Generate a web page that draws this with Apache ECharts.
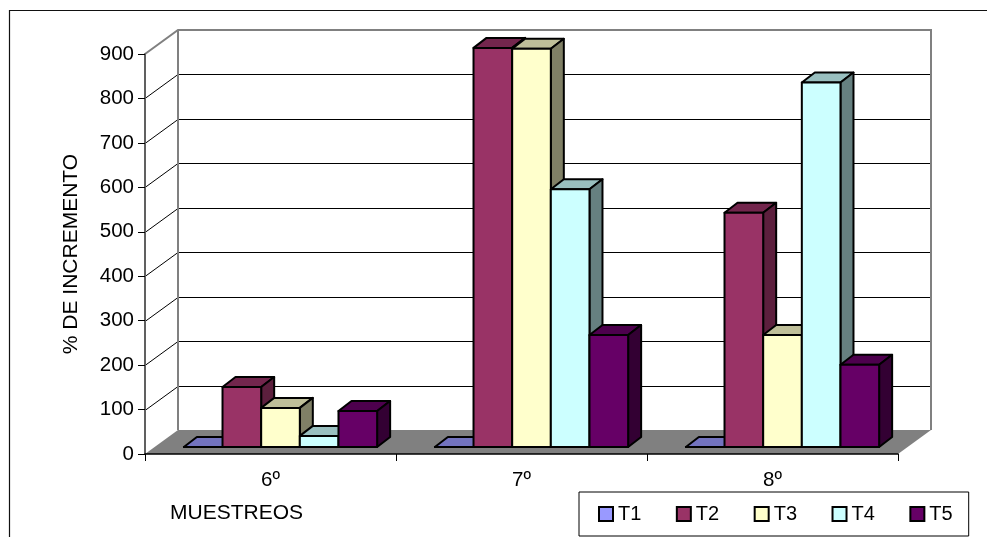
<!DOCTYPE html>
<html>
<head>
<meta charset="utf-8">
<style>html,body{margin:0;padding:0;background:#fff}#c{width:987px;height:537px}</style>
<script src="https://cdn.jsdelivr.net/npm/echarts@6/dist/echarts.min.js"></script>
</head>
<body>
<div id="c"></div>
<script>
const categories = ['6º', '7º', '8º'];
const seriesNames = ['T1', 'T2', 'T3', 'T4', 'T5'];
const T1 = [0, 0, 0];
const T2 = [135, 898, 527];
const T3 = [88, 896, 252];
const T4 = [25, 580, 820];
const T5 = [81, 252, 185];
const yTicks = [0, 100, 200, 300, 400, 500, 600, 700, 800, 900];

const seriesValues = [T1, T2, T3, T4, T5];
const faceFront = ['#9999FF', '#993366', '#FFFFCC', '#CCFFFF', '#660066'];
const faceTop = ['#7373BF', '#73264D', '#BFBF99', '#99BFBF', '#4D004D'];
const faceSide = ['#5C5C99', '#5C1F3D', '#808066', '#668080', '#330033'];

// Oblique projection: the floor runs 33px right and 24px up from front to back.
const DEPTH_X = 33, DEPTH_Y = -24;
const BAR_X = 10, BAR_Y = -7;       // shift of a bar's front face from the axis plane
const BAR_DX = 13, BAR_DY = -10;    // depth of a bar
const GROUP_SHARE = 0.77;           // part of a category band filled by the five bars

function renderWalls(params, api) {
  const band = api.size([1, 0])[0];
  const [cx0, y0] = api.coord([0, 0]);
  const x0 = cx0 - band / 2;
  const x1 = x0 + band * categories.length;
  const yTop = api.coord([0, yTicks[yTicks.length - 1]])[1];
  const children = [{
    type: 'polygon',
    shape: { points: [[x0, y0], [x0 + DEPTH_X, y0 + DEPTH_Y], [x1 + DEPTH_X, y0 + DEPTH_Y], [x1, y0]] },
    style: { fill: '#808080', stroke: null }
  }];
  yTicks.slice(1, -1).forEach(v => {
    const y = Math.round(api.coord([0, v])[1]) + 0.5;
    children.push({
      type: 'polyline',
      shape: { points: [[x0, y], [x0 + DEPTH_X, y + DEPTH_Y], [x1 + DEPTH_X, y + DEPTH_Y]] },
      style: { fill: null, stroke: '#000', lineWidth: 1 }
    });
  });
  children.push({
    type: 'polyline',
    shape: { points: [[x0, yTop], [x0 + DEPTH_X, yTop + DEPTH_Y], [x1 + DEPTH_X, yTop + DEPTH_Y], [x1 + DEPTH_X, y0 + DEPTH_Y]] },
    style: { fill: null, stroke: '#808080', lineWidth: 2 }
  });
  children.push({
    type: 'line',
    shape: { x1: x0 + DEPTH_X, y1: yTop + DEPTH_Y, x2: x0 + DEPTH_X, y2: y0 + DEPTH_Y },
    style: { stroke: '#808080', lineWidth: 2 }
  });
  return { type: 'group', children };
}

function renderBar(seriesIndex) {
  return function (params, api) {
    const cat = api.value(0);
    const val = api.value(1);
    const [cx, y0] = api.coord([cat, 0]);
    const yv = api.coord([cat, val])[1];
    const band = api.size([1, 0])[0];
    const w = band * GROUP_SHARE / seriesNames.length;
    const left = cx - band * GROUP_SHARE / 2 + seriesIndex * w + BAR_X;
    const right = left + w;
    const top = yv + BAR_Y;
    const bottom = y0 + BAR_Y;
    const edge = { stroke: '#000', lineWidth: 2, lineJoin: 'round' };
    return {
      type: 'group',
      children: [
        { type: 'polygon',
          shape: { points: [[left, top], [left + BAR_DX, top + BAR_DY], [right + BAR_DX, top + BAR_DY], [right, top]] },
          style: Object.assign({ fill: faceTop[seriesIndex] }, edge) },
        { type: 'polygon',
          shape: { points: [[right, top], [right + BAR_DX, top + BAR_DY], [right + BAR_DX, bottom + BAR_DY], [right, bottom]] },
          style: Object.assign({ fill: faceSide[seriesIndex] }, edge) },
        { type: 'polygon',
          shape: { points: [[left, top], [right, top], [right, bottom], [left, bottom]] },
          style: Object.assign({ fill: faceFront[seriesIndex] }, edge) }
      ]
    };
  };
}

const font = '"Liberation Sans", Arial, sans-serif';
const chart = echarts.init(document.getElementById('c'), null, { renderer: 'canvas' });

const barSeries = seriesNames.map((name, i) => ({
  name,
  type: 'custom',
  coordinateSystem: 'cartesian2d',
  renderItem: renderBar(i),
  itemStyle: { color: faceFront[i], borderColor: '#000', borderWidth: 2 },
  encode: { x: 0, y: 1 },
  clip: false,
  z: 3 + i,
  data: seriesValues[i].map((v, c) => [c, v])
}));

chart.setOption({
  animation: false,
  backgroundColor: '#fff',
  textStyle: { fontFamily: font },
  grid: { left: 145, top: 54, width: 753, height: 400, containLabel: false },
  xAxis: {
    type: 'category',
    data: categories,
    axisLine: { show: true, lineStyle: { color: '#000', width: 1.5 } },
    axisTick: { show: true, length: 7, lineStyle: { color: '#000', width: 1 } },
    axisLabel: { color: '#000', fontSize: 20.5, margin: 16, fontFamily: font },
    splitLine: { show: false },
    z: 2
  },
  yAxis: {
    type: 'value',
    min: 0,
    max: 900,
    interval: 100,
    name: '% DE INCREMENTO',
    nameLocation: 'middle',
    nameGap: 63,
    nameTextStyle: { color: '#000', fontSize: 21, fontFamily: font },
    axisLine: { show: true, lineStyle: { color: '#606060', width: 2 } },
    axisTick: { show: true, length: 7, lineStyle: { color: '#000', width: 1 } },
    axisLabel: { color: '#000', fontSize: 20.5, margin: 11, padding: [3, 0, 0, 0], fontFamily: font },
    splitLine: { show: false },
    z: 2
  },
  legend: {
    data: seriesNames,
    left: 579,
    top: 492,
    padding: [12, 16, 12, 19],
    itemWidth: 14,
    itemHeight: 14,
    itemGap: 34.5,
    icon: 'rect',
    selectedMode: false,
    backgroundColor: '#fff',
    borderColor: '#000',
    borderWidth: 1,
    textStyle: { color: '#000', fontSize: 20, fontFamily: font }
  },
  graphic: [
    { type: 'rect', z: -10, silent: true,
      shape: { x: 9.5, y: 10.5, width: 990, height: 540 },
      style: { fill: null, stroke: '#111', lineWidth: 1.2 } },
    { type: 'text', left: 170, top: 503, silent: true,
      style: { text: 'MUESTREOS', font: '21px ' + font, fill: '#000' } }
  ],
  series: [{
    type: 'custom',
    coordinateSystem: 'cartesian2d',
    renderItem: renderWalls,
    silent: true,
    clip: false,
    z: 1,
    encode: { x: 0, y: 1 },
    data: [[0, 0]]
  }].concat(barSeries)
});
</script>
</body>
</html>
